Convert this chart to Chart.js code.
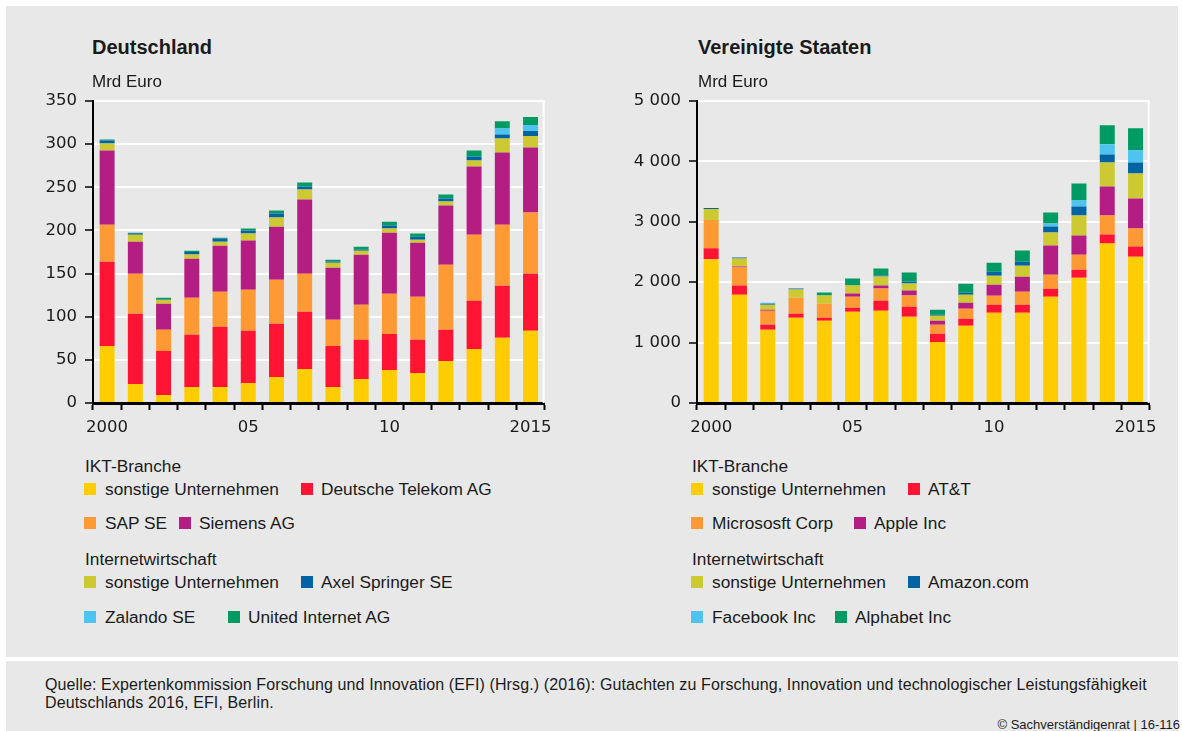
<!DOCTYPE html>
<html><head><meta charset="utf-8">
<script src="https://cdn.jsdelivr.net/npm/chart.js@4.4.1/dist/chart.umd.min.js"></script>
<style>
html,body{margin:0;padding:0;background:#fff;}
body{width:1182px;height:731px;position:relative;overflow:hidden;font-family:"Liberation Sans",Arial,sans-serif;color:#1a1a1a;}
#panel{position:absolute;left:6px;top:6px;width:1172px;height:651px;background:#e8e8e8;}
#foot{position:absolute;left:6px;top:661px;width:1172px;height:70px;background:#e8e8e8;}
.abs{position:absolute;white-space:nowrap;}
.title{font-weight:bold;font-size:20px;line-height:24px;}
.unit{font-size:17px;line-height:20px;}
.lg{font-size:17.3px;line-height:20px;}
.sq{position:absolute;width:12px;height:12px;}
.src{font-size:16px;line-height:18px;letter-spacing:0.12px;}
.copy{font-size:13px;line-height:14px;}
canvas{position:absolute;}
</style></head>
<body>
<div id="panel"></div>
<div id="foot"></div>
<canvas id="cDE" width="560" height="362" style="left:0px;top:81px"></canvas>
<canvas id="cUS" width="568" height="362" style="left:597px;top:81px"></canvas>
<div class="abs title" style="left:92px;top:35px">Deutschland</div>
<div class="abs unit" style="left:92px;top:72px">Mrd Euro</div>
<div class="abs title" style="left:698px;top:35px">Vereinigte Staaten</div>
<div class="abs unit" style="left:698px;top:72px">Mrd Euro</div>
<div id="legends"></div>
<div class="abs src" style="left:45px;top:676px">Quelle: Expertenkommission Forschung und Innovation (EFI) (Hrsg.) (2016): Gutachten zu Forschung, Innovation und technologischer Leistungsfähigkeit<br>Deutschlands 2016, EFI, Berlin.</div>
<div class="abs copy" style="right:2px;top:718px">© Sachverständigenrat | 16-116</div>
<script>
// ---- data ----
const years = ['2000','2001','2002','2003','2004','2005','2006','2007','2008','2009','2010','2011','2012','2013','2014','2015'];
const xTickLabels = ['2000','','','','','05','','','','','10','','','','','2015'];
const groupHeaders = ['IKT-Branche','Internetwirtschaft'];

const deNames = ['sonstige Unternehmen','Deutsche Telekom AG','SAP SE','Siemens AG','sonstige Unternehmen','Axel Springer SE','Zalando SE','United Internet AG'];
const deSonstigeIKT   = [66.2,22.1,9.3,18.6,18.6,23.2,30.2,39.5,18.6,27.9,38.3,34.8,48.8,62.7,75.5,83.6];
const deTelekom       = [97.6,81.3,51.1,60.4,69.7,60.4,61.6,66.2,47.6,45.3,41.8,38.4,36.0,55.8,60.4,66.2];
const deSAP           = [42.9,46.4,24.4,43.0,40.6,47.6,51.1,44.1,30.2,40.6,46.5,49.9,75.5,76.6,70.8,70.9];
const deSiemens       = [86.0,37.2,30.2,45.2,53.4,57.0,61.5,86.0,60.4,58.1,70.8,62.7,68.5,79.0,83.7,75.5];
const deSonstigeNet   = [8.1,8.1,4.6,4.8,4.7,8.1,10.5,11.6,5.8,4.6,4.7,3.5,4.6,7.0,16.2,13.3];
const deAxelSpringer  = [3.5,1.6,1.0,3.0,3.5,3.5,4.6,3.5,1.5,1.2,3.5,3.5,3.5,4.6,4.7,5.8];
const deZalando       = [0,0,0,0,0,0,0,0,0,0,0,0,0,0,6.9,7.0];
const deUnitedNet     = [1.2,0.7,1.4,1.5,1.1,2.3,3.5,4.6,2.0,3.5,4.6,3.5,4.7,7.0,8.2,9.3];

const usNames = ['sonstige Unternehmen','AT&T','Micrososft Corp','Apple Inc','sonstige Unternehmen','Amazon.com','Facebook Inc','Alphabet Inc'];
const usSonstigeIKT   = [2378,1794,1211,1411,1361,1511,1528,1428,1012,1278,1494,1494,1759,2075,2639,2423];
const usATT           = [183,150,83,67,50,67,166,166,133,116,133,133,133,132,149,166];
const usMicrosoft     = [467,300,234,266,233,183,200,184,150,166,149,215,232,249,316,299];
const usApple         = [0,17,16,0,0,50,50,83,66,100,183,249,482,316,481,498];
const usSonstigeNet   = [183,133,84,134,134,133,150,117,83,133,149,183,216,332,398,415];
const usAmazon        = [17,17,16,16,0,0,17,33,17,33,66,66,99,149,133,182];
const usFacebook      = [0,0,17,0,0,0,0,0,0,0,0,0,50,100,166,200];
const usAlphabet      = [0,0,0,0,50,117,117,150,83,149,150,183,183,282,316,365];

// ---- styles ----
const colors = ['#ffcc00','#ff1433','#ff9933','#b41e82','#cdc933','#0063a3','#4dc3f0','#009b64'];
const TICKFONT = '"DejaVu Sans", "Liberation Sans", Arial, sans-serif';
const TXT = '#1a1a1a';

function fmt(v){ return String(v).replace(/\B(?=(\d{3})+(?!\d))/g,' '); }

const rightEdge = {
  id:'rightEdge',
  beforeDatasetsDraw(chart){
    const a = chart.chartArea, ctx = chart.ctx;
    ctx.save(); ctx.strokeStyle='#ffffff'; ctx.lineWidth=2;
    ctx.beginPath(); ctx.moveTo(a.right-1,a.top-1); ctx.lineTo(a.right-1,a.bottom); ctx.stroke();
    ctx.restore();
  }
};

function makeChart(id, names, series, max, step, yWidth){
  new Chart(document.getElementById(id), {
    type:'bar',
    data:{
      labels: years,
      datasets: series.map((d,i)=>({label:names[i], data:d, backgroundColor:colors[i], borderWidth:0,
        barPercentage:0.53, categoryPercentage:1}))
    },
    options:{
      responsive:false, animation:false, devicePixelRatio:1,
      layout:{padding:{top:20,right:15,left:0,bottom:0}},
      plugins:{legend:{display:false}, tooltip:{enabled:false}},
      scales:{
        x:{stacked:true, offset:true,
          grid:{display:true, drawOnChartArea:false, offset:true, drawTicks:true, tickLength:7, tickColor:'#000', tickWidth:2},
          border:{display:true, color:'#000', width:3},
          ticks:{autoSkip:false, maxRotation:0, color:TXT, font:{family:TICKFONT,size:16.5}, padding:8,
            callback:(v,i)=>xTickLabels[i]},
          afterFit:s=>{s.height=40;}
        },
        y:{stacked:true, min:0, max:max,
          grid:{color:'#ffffff', lineWidth:2, drawTicks:true, tickLength:8, tickColor:'#000', tickWidth:1.5},
          border:{display:true, color:'#000', width:2},
          ticks:{stepSize:step, color:TXT, font:{family:TICKFONT,size:16.5}, padding:8, callback:v=>fmt(v)},
          afterFit:s=>{s.width=yWidth;}
        }
      }
    },
    plugins:[rightEdge]
  });
}

makeChart('cDE', deNames, [deSonstigeIKT,deTelekom,deSAP,deSiemens,deSonstigeNet,deAxelSpringer,deZalando,deUnitedNet], 350, 50, 93);
makeChart('cUS', usNames, [usSonstigeIKT,usATT,usMicrosoft,usApple,usSonstigeNet,usAmazon,usFacebook,usAlphabet], 5000, 1000, 100);

// ---- legends (layout only) ----
const legendLayout = {
  de:{x0:84, second:[301,179,301,228]},
  us:{x0:691, second:[908,854,908,835]}
};
const headerY = [466,559], rowY = [489,523,582,617];
const host = document.getElementById('legends');
function addText(txt,x,cy,cls){ const d=document.createElement('div'); d.className='abs '+cls; d.textContent=txt; d.style.left=x+'px'; d.style.top=(cy-10)+'px'; host.appendChild(d); }
function addSq(col,x,cy){ const d=document.createElement('div'); d.className='sq'; d.style.background=col; d.style.left=x+'px'; d.style.top=(cy-6)+'px'; host.appendChild(d); }
function buildLegend(names, lay){
  addText(groupHeaders[0], lay.x0+1, headerY[0], 'lg');
  addText(groupHeaders[1], lay.x0+1, headerY[1], 'lg');
  for(let r=0;r<4;r++){
    const i1=r*2, i2=r*2+1, cy=rowY[r];
    addSq(colors[i1], lay.x0, cy); addText(names[i1], lay.x0+21, cy, 'lg');
    addSq(colors[i2], lay.second[r], cy); addText(names[i2], lay.second[r]+20, cy, 'lg');
  }
}
buildLegend(deNames, legendLayout.de);
buildLegend(usNames, legendLayout.us);
</script>
</body></html>
